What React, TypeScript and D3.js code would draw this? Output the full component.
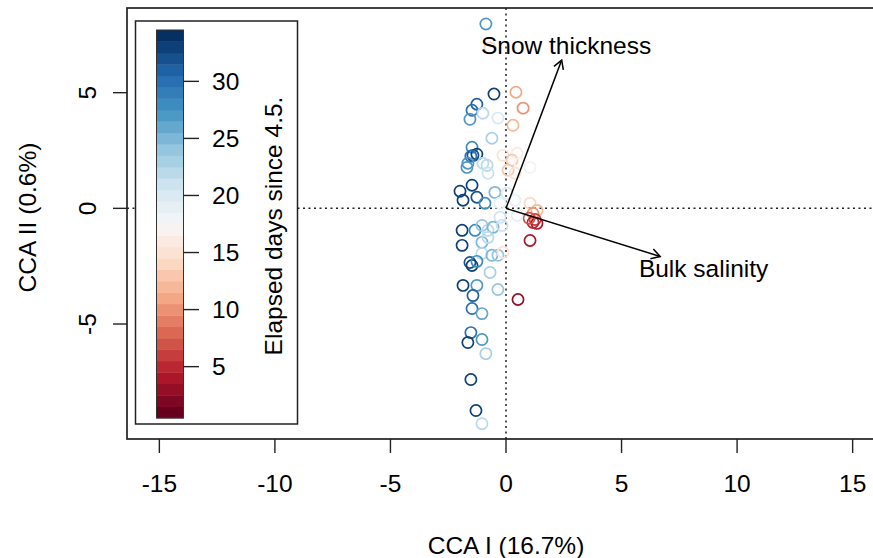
import React from "react";
import * as d3 from "d3";

// Site scores on the first two constrained axes, with elapsed days for colouring
const ccaI = [
  -0.87, -0.69, -0.52, 0.43, -1.26, -1.47, -1.0, -1.56, -0.35, 0.74,
  0.3, -0.61, -1.47, -1.43, -1.26, -1.52, -0.13, 0.48, 0.26, -1.65,
  -1.0, 0.61, -0.82, -0.78, -1.69, 0.09, 0.39, 1.04, -1.47, -1.99,
  -1.26, -1.86, -0.48, -0.91, -0.26, 0.04, 0.39, 1.04, 1.34, 1.17,
  1.26, 1.34, 1.17, 1.0, 0.48, -0.26, -1.9, -1.34, -1.04, -0.78,
  -0.56, -0.17, 1.04, -1.9, -1.04, -0.78, -1.04, -0.61, -0.35, -0.13,
  -1.56, -1.47, -1.26, -0.69, -1.86, -1.26, -0.35, -1.43, 0.52, -1.47,
  -1.04, -1.52, -1.65, -1.04, -0.87, -1.52, -1.3, -1.04,
];
const ccaII = [
  7.97, 6.93, 4.94, 5.02, 4.5, 4.24, 4.11, 3.85, 3.9, 4.33,
  3.59, 3.03, 2.64, 2.29, 2.34, 2.25, 2.29, 2.38, 2.08, 1.95,
  1.95, 1.95, 1.86, 1.52, 1.77, 1.65, 1.52, 1.77, 1.0, 0.74,
  0.48, 0.35, 0.69, 0.22, 0.22, 0.65, 0.35, 0.22, -0.09, -0.22,
  -0.48, -0.65, -0.61, -0.43, -0.3, -0.39, -0.95, -0.95, -0.74, -0.95,
  -0.82, -0.74, -1.39, -1.6, -1.47, -1.26, -1.95, -2.03, -2.03, -1.9,
  -2.34, -2.47, -2.29, -2.77, -3.33, -3.33, -3.51, -3.77, -3.94, -4.33,
  -4.55, -5.37, -5.8, -5.67, -6.28, -7.4, -8.74, -9.31,
];
const elapsedDays = [
  27, 14, 33, 11, 31, 30, 22, 27, 20, 10,
  12, 23, 28, 32, 33, 30, 15, 16, 13, 27,
  22, 17, 22, 21, 27, 13, 15, 18, 33, 33,
  32, 33, 25, 28, 19, 20, 19, 14, 12, 10,
  6, 4, 5, 7, 19, 21, 33, 28, 24, 22,
  25, 21, 4, 33, 25, 22, 22, 25, 24, 15,
  32, 33, 28, 23, 33, 27, 24, 31, 3, 30,
  26, 30, 33, 27, 23, 33, 33, 22,
];

// Environmental vectors (arrow tips) and their label anchors
const envNames = ["Snow thickness", "Bulk salinity"];
const envX = [2.41, 6.67];
const envY = [6.41, -2.08];
const envLabelX = [2.6, 8.55];
const envLabelY = [7.02, -2.6];

const xTicks = [-15, -10, -5, 0, 5, 10, 15];
const yTicks = [-5, 0, 5];
const dayTicks = [5, 10, 15, 20, 25, 30];
const dayMin = 1;
const dayMax = 34;

const rdbu = [
  "#67001F", "#B2182B", "#D6604D", "#F4A582", "#FDDBC7", "#F7F7F7",
  "#D1E5F0", "#92C5DE", "#4393C3", "#2166AC", "#053061",
];

const W = 873;
const H = 558;
const FONT = "'Liberation Sans', Arial, Helvetica, sans-serif";
const FS = 24.5;

export default function App() {
  const x = d3.scaleLinear().domain([-16.4, 16.4]).range([127, 885]);
  const y = d3.scaleLinear().domain([-9.97, 8.66]).range([439, 8]);

  const colour = d3
    .scaleLinear<string>()
    .domain(d3.range(rdbu.length).map((i) => dayMin + (i * (dayMax - dayMin)) / (rdbu.length - 1)))
    .range(rdbu)
    .interpolate(d3.interpolateRgb);

  // colour bar scale
  const ly = d3.scaleLinear().domain([dayMin - 0.5, dayMax + 0.5]).range([418, 30]);
  const days = d3.range(dayMin, dayMax + 1);

  const x0 = x(0);
  const y0 = y(0);
  const arrowHead = (tx: number, ty: number) => {
    const ang = Math.atan2(ty - y0, tx - x0);
    const len = 10;
    const a = Math.PI / 6;
    return `M${tx - len * Math.cos(ang - a)},${ty - len * Math.sin(ang - a)}L${tx},${ty}L${tx - len * Math.cos(ang + a)},${ty - len * Math.sin(ang + a)}`;
  };

  return (
    <svg
      width={W}
      height={H}
      style={{ position: "absolute", left: 0, top: 0, background: "#fff" }}
      fontFamily={FONT}
    >
      <rect x={0} y={0} width={W} height={H} fill="#fff" />

      {/* zero reference lines */}
      <line x1={x.range()[0]} x2={x.range()[1]} y1={y0} y2={y0} stroke="#222" strokeWidth={1.5} strokeDasharray="2,3.5" />
      <line x1={x0} x2={x0} y1={y.range()[0]} y2={y.range()[1]} stroke="#222" strokeWidth={1.5} strokeDasharray="2,3.5" />

      {/* site scores */}
      {ccaI.map((v, i) => (
        <circle
          key={i}
          cx={x(v)}
          cy={y(ccaII[i])}
          r={5.6}
          fill="none"
          stroke={colour(elapsedDays[i])}
          strokeWidth={1.7}
        />
      ))}

      {/* environmental arrows */}
      {envNames.map((name, i) => {
        const tx = x(envX[i]);
        const ty = y(envY[i]);
        return (
          <g key={name}>
            <line x1={x0} y1={y0} x2={tx} y2={ty} stroke="#000" strokeWidth={1.5} />
            <path d={arrowHead(tx, ty)} fill="none" stroke="#000" strokeWidth={1.5} />
            <text
              x={x(envLabelX[i])}
              y={y(envLabelY[i])}
              textAnchor="middle"
              dominantBaseline="central"
              fontSize={FS}
              fill="#000"
            >
              {name}
            </text>
          </g>
        );
      })}

      {/* plot frame */}
      <rect
        x={x.range()[0]}
        y={y.range()[1]}
        width={x.range()[1] - x.range()[0]}
        height={y.range()[0] - y.range()[1]}
        fill="none"
        stroke="#222"
        strokeWidth={1.7}
      />

      {/* x axis */}
      {xTicks.map((t) => (
        <g key={t}>
          <line x1={x(t)} x2={x(t)} y1={439} y2={453} stroke="#222" strokeWidth={1.4} />
          <text x={x(t)} y={492} textAnchor="middle" fontSize={FS} fill="#000">
            {t}
          </text>
        </g>
      ))}
      <text x={506} y={554} textAnchor="middle" fontSize={FS} fill="#000">
        CCA I (16.7%)
      </text>

      {/* y axis */}
      {yTicks.map((t) => (
        <g key={t}>
          <line x1={113} x2={127} y1={y(t)} y2={y(t)} stroke="#222" strokeWidth={1.4} />
          <text
            transform={`translate(96,${y(t)}) rotate(-90)`}
            textAnchor="middle"
            fontSize={FS}
            fill="#000"
          >
            {t}
          </text>
        </g>
      ))}
      <text
        transform={`translate(36,${(y.range()[0] + y.range()[1]) / 2 - 6}) rotate(-90)`}
        textAnchor="middle"
        fontSize={FS}
        fill="#000"
      >
        CCA II (0.6%)
      </text>

      {/* colour legend */}
      <rect x={135.5} y={21} width={162} height={403} fill="#fff" stroke="#222" strokeWidth={1.5} />
      {days.map((d) => (
        <rect
          key={d}
          x={156.5}
          y={ly(d + 0.5)}
          width={27}
          height={ly(d - 0.5) - ly(d + 0.5) + 0.4}
          fill={colour(d)}
        />
      ))}
      <rect x={156.5} y={ly(dayMax + 0.5)} width={27} height={ly(dayMin - 0.5) - ly(dayMax + 0.5)} fill="none" stroke="#333" strokeWidth={1} />
      {dayTicks.map((t) => (
        <g key={t}>
          <line x1={183.5} x2={199} y1={ly(t)} y2={ly(t)} stroke="#222" strokeWidth={1.4} />
          <text x={212} y={ly(t)} dominantBaseline="central" fontSize={FS} fill="#000">
            {t}
          </text>
        </g>
      ))}
      <text
        transform={`translate(282,226) rotate(-90)`}
        textAnchor="middle"
        fontSize={FS}
        fill="#000"
      >
        Elapsed days since 4.5.
      </text>
    </svg>
  );
}
